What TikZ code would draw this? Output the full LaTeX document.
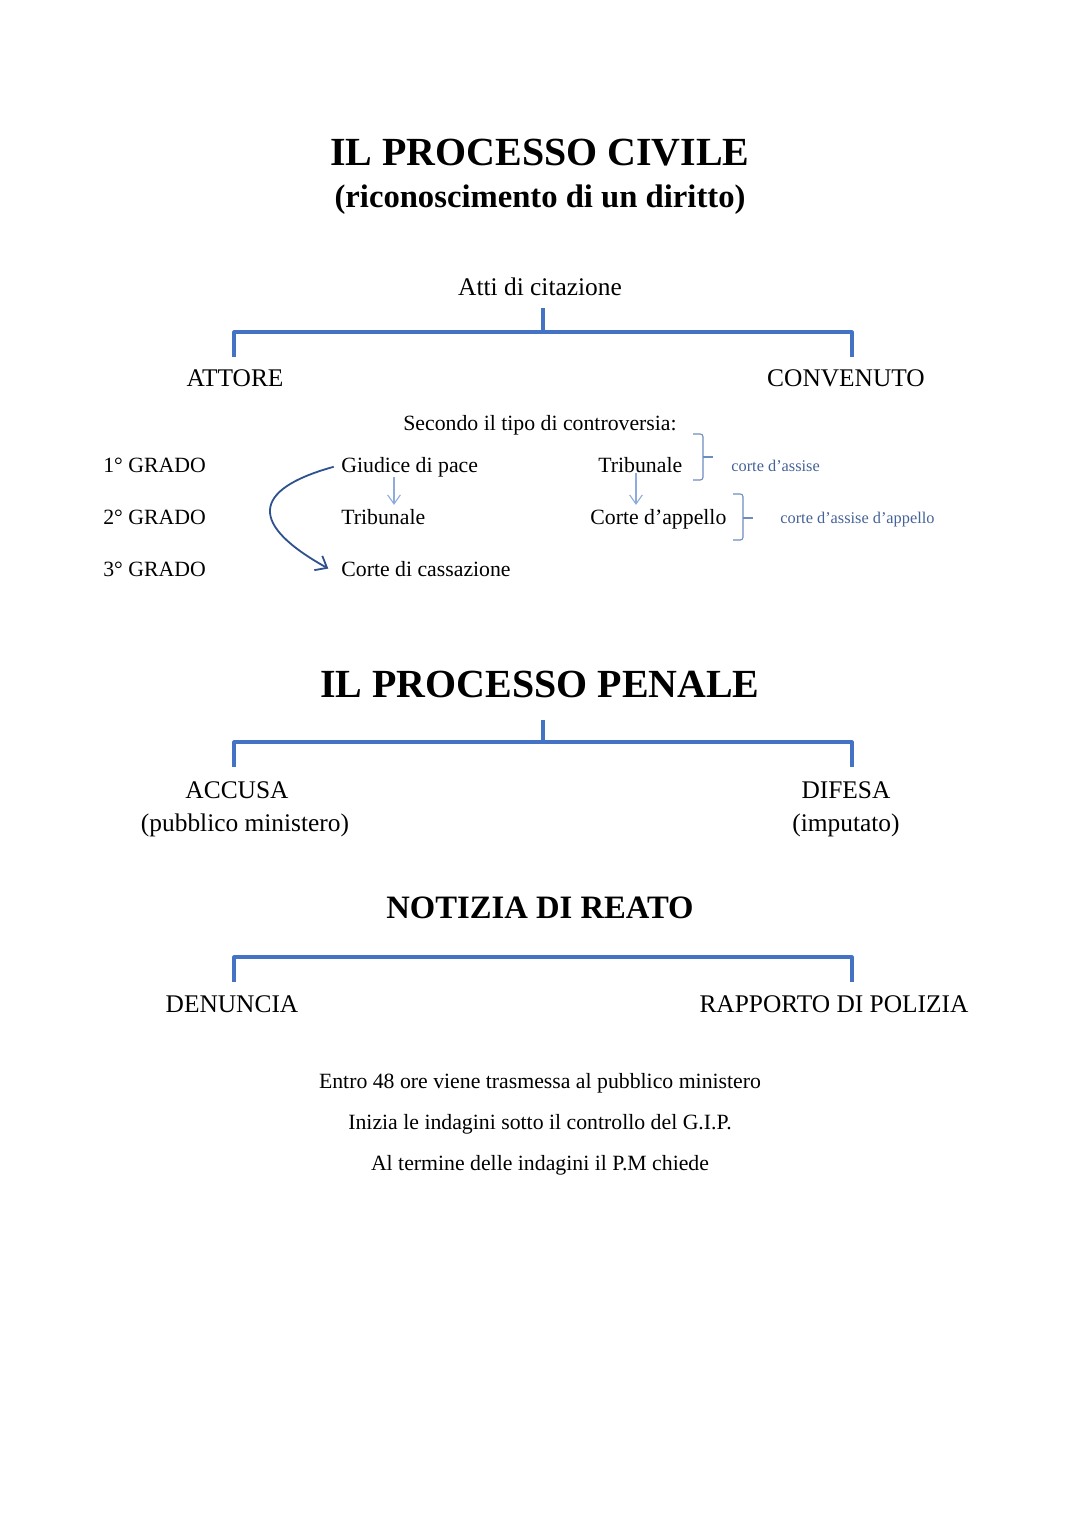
\documentclass[tikz,border=0pt]{standalone}
\usepackage{fontspec}
\setmainfont{Liberation Serif}
\usetikzlibrary{arrows.meta}
\definecolor{lineblue}{RGB}{68,114,196}
\definecolor{arrowblue}{RGB}{143,170,220}
\definecolor{curveblue}{RGB}{47,82,143}
\definecolor{braceblue}{RGB}{110,140,190}
\definecolor{noteblue}{RGB}{68,98,152}
\begin{document}
\begin{tikzpicture}
  [
    x=0.5512pt, y=-0.5512pt,
    inner sep=0mm,
    heading/.style={anchor=base,font=\fontsize{22}{26}\selectfont\bfseries},
    subheading/.style={anchor=base,font=\fontsize{18}{21}\selectfont\bfseries},
    party/.style={anchor=base,font=\fontsize{14}{17}\selectfont},
    grade/.style={anchor=base west,font=\fontsize{12}{14}\selectfont},
    court/.style={anchor=base west,font=\fontsize{12}{14}\selectfont},
    note/.style={anchor=base west,text=noteblue,font=\fontsize{9}{11}\selectfont},
    textline/.style={anchor=base,font=\fontsize{12}{14}\selectfont},
    bracket/.style={draw=lineblue,line width=1.7pt,line join=round},
    smallarrow/.style={draw=arrowblue,line width=0.6pt,-{Straight Barb[length=5pt,width=7pt]}},
    curvearrow/.style={draw=curveblue,line width=1pt,-{Straight Barb[length=5.5pt,width=9pt]}},
    brace/.style={draw=braceblue,line width=0.6pt,rounded corners=1.5pt},
  ]
  \useasboundingbox (0,0) rectangle (1080,1527);

  % processo civile
  \node (civile) at (540,165) [heading] {IL PROCESSO CIVILE};
  \node (diritto) at (540,207) [subheading] {(riconoscimento di un diritto)};
  \node (atti) at (540,295) [party] {Atti di citazione};
  \node (attore) at (235,386) [party] {ATTORE};
  \node (convenuto) at (846,386) [party] {CONVENUTO};

  \coordinate (civtop) at (543,308);
  \coordinate (civmid) at (543,332);
  \coordinate (civl) at (234,357);
  \coordinate (civr) at (852,357);
  \draw [bracket] (civtop) -- (civmid);
  \draw [bracket] (civl) |- (civmid) -| (civr);

  \node (tipo) at (540,430) [textline] {Secondo il tipo di controversia:};
  \node (grado1) at (103,472) [grade] {1° GRADO};
  \node (grado2) at (103,524) [grade] {2° GRADO};
  \node (grado3) at (103,576) [grade] {3° GRADO};

  \node (pace) at (341,472) [court] {Giudice di pace};
  \node (tribA) at (341,524) [court] {Tribunale};
  \node (cassazione) at (341,576) [court] {Corte di cassazione};
  \node (tribB) at (598,472) [court] {Tribunale};
  \node (appello) at (590,524) [court] {Corte d’appello};
  \node (assise) at (731,471) [note] {corte d’assise};
  \node (assiseapp) at (780,523) [note] {corte d’assise d’appello};

  \coordinate (pacex) at (394,0);
  \coordinate (tribx) at (636,0);
  \draw [smallarrow] (pace.south -| pacex) -- ([yshift=2pt]tribA.north -| pacex);
  \draw [smallarrow] (tribB.south -| tribx) -- ([yshift=2pt]appello.north -| tribx);
  \draw [curvearrow] ([xshift=-4pt]pace.west) .. controls (250,490) and (250,525) .. ([xshift=-7pt]cassazione.west);

  \draw [brace] (693,434) -| (703,480) -- (693,480);
  \draw [brace] (703,457) -- (713,457);
  \draw [brace] (733,494) -| (743,540) -- (733,540);
  \draw [brace] (743,518) -- (753,518);

  % processo penale
  \node (penale) at (540,697) [heading] {IL PROCESSO PENALE};
  \node (accusa) at (237,798) [party] {ACCUSA};
  \node (pm) at (245,831) [party] {(pubblico ministero)};
  \node (difesa) at (846,798) [party] {DIFESA};
  \node (imputato) at (846,831) [party] {(imputato)};

  \coordinate (pentop) at (543,720);
  \coordinate (penmid) at (543,742);
  \coordinate (penl) at (234,767);
  \coordinate (penr) at (852,767);
  \draw [bracket] (pentop) -- (penmid);
  \draw [bracket] (penl) |- (penmid) -| (penr);

  % notizia di reato
  \node (notizia) at (540,918) [heading,font=\fontsize{18}{22}\selectfont\bfseries] {NOTIZIA DI REATO};
  \node (denuncia) at (232,1012) [party] {DENUNCIA};
  \node (rapporto) at (834,1012) [party] {RAPPORTO DI POLIZIA};

  \coordinate (notmid) at (543,957);
  \coordinate (notl) at (234,982);
  \coordinate (notr) at (852,982);
  \draw [bracket] (notl) |- (notmid) -| (notr);

  \node (entro) at (540,1088) [textline] {Entro 48 ore viene trasmessa al pubblico ministero};
  \node (indagini) at (540,1129) [textline] {Inizia le indagini sotto il controllo del G.I.P.};
  \node (termine) at (540,1170) [textline] {Al termine delle indagini il P.M chiede};
\end{tikzpicture}
\end{document}
